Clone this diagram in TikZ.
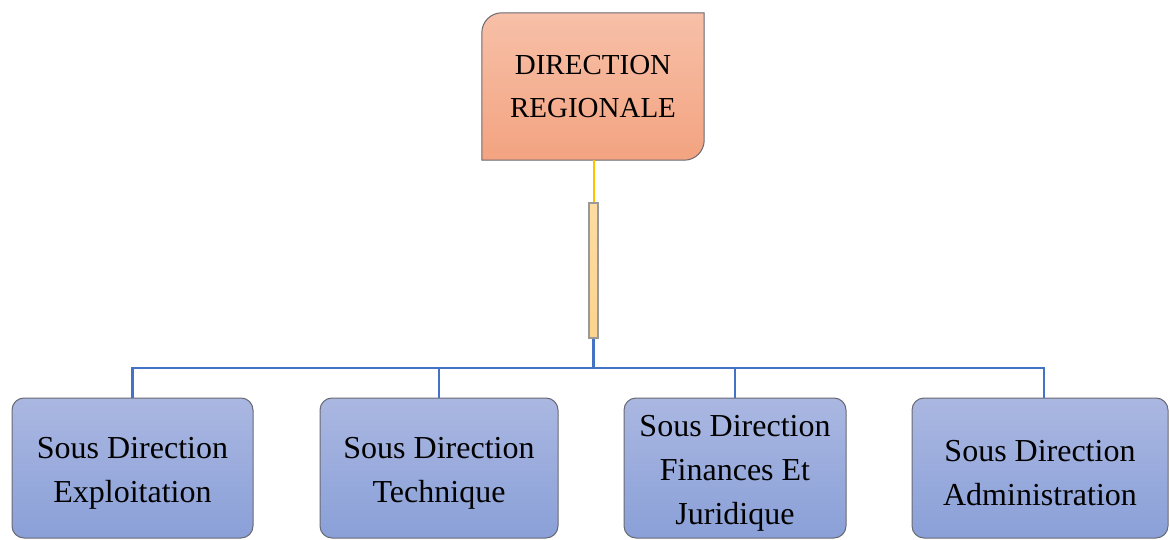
\documentclass[tikz,border=0pt]{standalone}
\usepackage{fontspec}
\setmainfont{Liberation Serif}
\usetikzlibrary{backgrounds}
\definecolor{headtop}{RGB}{247,192,168}
\definecolor{headbot}{RGB}{243,163,128}
\definecolor{subtop}{RGB}{170,183,225}
\definecolor{subbot}{RGB}{138,160,216}
\definecolor{edgegray}{RGB}{105,105,115}
\definecolor{linkblue}{RGB}{68,114,196}
\definecolor{linkgold}{RGB}{255,192,0}
\definecolor{stemfill}{RGB}{252,212,140}
\begin{document}
\begin{tikzpicture}[x=1pt,y=1pt,
  headbox/.style={minimum width=222pt,minimum height=147pt,inner sep=0pt,
    align=center,font=\fontsize{29}{43}\selectfont},
  subbox/.style={draw=edgegray,line width=1pt,rounded corners=12pt,
    top color=subtop,bottom color=subbot,inner sep=0pt,minimum height=140pt},
  subtext/.style={align=center,inner sep=0pt,yshift=-5pt,
    font=\fontsize{32}{44}\selectfont},
  bluelink/.style={draw=linkblue,line width=2.4pt},
  goldlink/.style={draw=linkgold,line width=2pt}]
\useasboundingbox (0,0) rectangle (1170,539);

% head of the organisation
\node[headbox] (dr) at (593,452.5) {DIRECTION\\REGIONALE};
\begin{scope}[on background layer]
  \path[draw=edgegray,line width=1pt,top color=headtop,bottom color=headbot]
    (dr.south west) -- ([yshift=-20pt]dr.north west)
    arc[start angle=180,end angle=90,radius=20pt]
    -- (dr.north east) -- ([yshift=20pt]dr.south east)
    arc[start angle=0,end angle=-90,radius=20pt] -- cycle;
\end{scope}

% stem between head and departments
\node[draw=gray!80,line width=1.2pt,top color=stemfill!80,bottom color=stemfill,
  minimum width=9pt,minimum height=135pt,inner sep=0pt] (stem) at (593.5,268.5) {};

% departments
\node[subbox,minimum width=241pt,label={[subtext]center:{Sous Direction\\Exploitation}}] (b1) at (132.5,71) {};
\node[subbox,minimum width=238pt,label={[subtext]center:{Sous Direction\\Technique}}] (b2) at (439,71) {};
\node[subbox,minimum width=222pt,label={[subtext]center:{Sous Direction\\Finances Et\\Juridique}}] (b3) at (735,71) {};
\node[subbox,minimum width=256pt,label={[subtext]center:{Sous Direction\\Administration}}] (b4) at (1040,71) {};

% connectors
\coordinate (bus) at (593.5,171);
\draw[goldlink] (dr.south -| stem.north) -- (stem.north);
\draw[bluelink] (stem.south) -- (bus);
\draw[bluelink] (bus) -| (b1.north);
\draw[bluelink] (bus) -| (b2.north);
\draw[bluelink] (bus) -| (b3.north);
\draw[bluelink] (bus) -| ([xshift=4pt]b4.north);
\end{tikzpicture}
\end{document}
